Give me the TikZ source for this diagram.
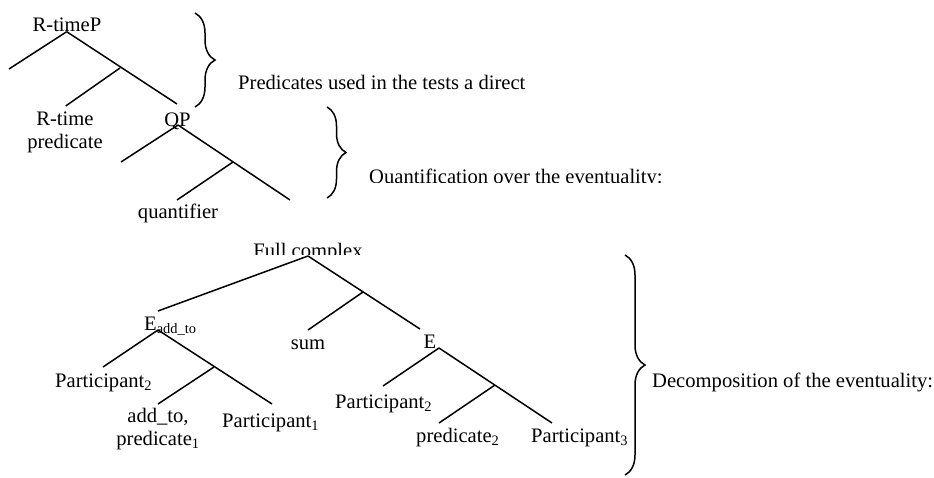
\documentclass[tikz,border=0pt]{standalone}
\usepackage{fontspec}
\setmainfont{Liberation Serif}
\usetikzlibrary{decorations.pathreplacing}

\begin{document}
\begin{tikzpicture}[x=1pt, y=-1pt,
    lbl/.style={font=\fontsize{20.6}{22.5}\selectfont, inner sep=0pt, align=center},
    branch/.style={line width=1.5pt},
    grp/.style={decorate, decoration={brace, amplitude=20pt}, line width=1.5pt}]
  \useasboundingbox (0,0) rectangle (934,477);

  % upper trees: R-timeP and QP
  \node[lbl, anchor=base] (rtime) at (67,31) {R-timeP};
  \node[lbl, anchor=base] (rtpred) at (65,148) {R-time\\predicate};
  \node[lbl, anchor=base] (qp) at (177.5,126) {QP};
  \node[lbl, anchor=base] (quant) at (178,218) {quantifier};
  \coordinate (rtA) at (66.7,31.7);
  \coordinate (rtL) at (9,69);
  \coordinate (rtR) at (177,104);
  \coordinate (rtM) at (120,68);
  \coordinate (rtML) at (65.7,106);
  \coordinate (qA) at (178,125);
  \coordinate (qL) at (121,162);
  \coordinate (qR) at (290,200);
  \coordinate (qM) at (233,162);
  \coordinate (qML) at (177,200);

  % lower tree: full complex
  \begin{scope}
    \clip (240,235) rectangle (380,254.5);
    \node[lbl, anchor=base] (full) at (308,257) {Full complex};
  \end{scope}
  \node[lbl, anchor=base west] (eadd) at (144,330) {E\textsubscript{add\_to}};
  \node[lbl, anchor=base] (sum) at (308,349) {sum};
  \node[lbl, anchor=base] (ev) at (430,348) {E};
  \node[lbl, anchor=base west] (parta) at (55,387) {Participant\textsubscript{2}};
  \node[lbl, anchor=base] (addto) at (158,445) {add\_to,\\predicate\textsubscript{1}};
  \node[lbl, anchor=base west] (partb) at (222,427) {Participant\textsubscript{1}};
  \node[lbl, anchor=base west] (partc) at (335,408) {Participant\textsubscript{2}};
  \node[lbl, anchor=base west] (predb) at (416,442) {predicate\textsubscript{2}};
  \node[lbl, anchor=base west] (partd) at (531,442) {Participant\textsubscript{3}};
  \coordinate (fA) at (308,256);
  \coordinate (fL) at (158,311);
  \coordinate (fR) at (420,329);
  \coordinate (fM) at (363,292);
  \coordinate (fML) at (308,330);
  \coordinate (eaA) at (158,330);
  \coordinate (eaL) at (103,367);
  \coordinate (eaR) at (272,404);
  \coordinate (eaM) at (214,367);
  \coordinate (eaML) at (158,404);
  \coordinate (eA) at (439,348);
  \coordinate (eL) at (383,386);
  \coordinate (eR) at (552,423);
  \coordinate (eM) at (495,385);
  \coordinate (eML) at (439,423);

  % branches
  \foreach \a/\b in {rtA/rtL, rtA/rtR, rtM/rtML, qA/qL, qA/qR, qM/qML,
      fA/fL, fA/fR, fM/fML, eaA/eaL, eaA/eaR, eaM/eaML, eA/eL, eA/eR, eM/eML} {
    \draw[branch] (\a) -- (\b);
  }

  % braces and their notes
  \coordinate (bra) at (195,13);
  \coordinate (brb) at (195,107);
  \coordinate (brc) at (327,107);
  \coordinate (brd) at (327,198);
  \coordinate (bre) at (625,255);
  \coordinate (brf) at (625,475);
  \draw[grp] (bra) -- (brb);
  \draw[grp, decoration={amplitude=19pt}] (brc) -- (brd);
  \draw[grp] (bre) -- (brf);
  \node[lbl, anchor=base west] (notea) at (238,89) {Predicates used in the tests a direct};
  \begin{scope}
    \clip (360,160) rectangle (690,182.5);
    \node[lbl, anchor=base west] (noteb) at (369,183.5) {Quantification over the eventuality:};
  \end{scope}
  \node[lbl, anchor=base west] (notec) at (652,387) {Decomposition of the eventuality:};
\end{tikzpicture}
\end{document}
